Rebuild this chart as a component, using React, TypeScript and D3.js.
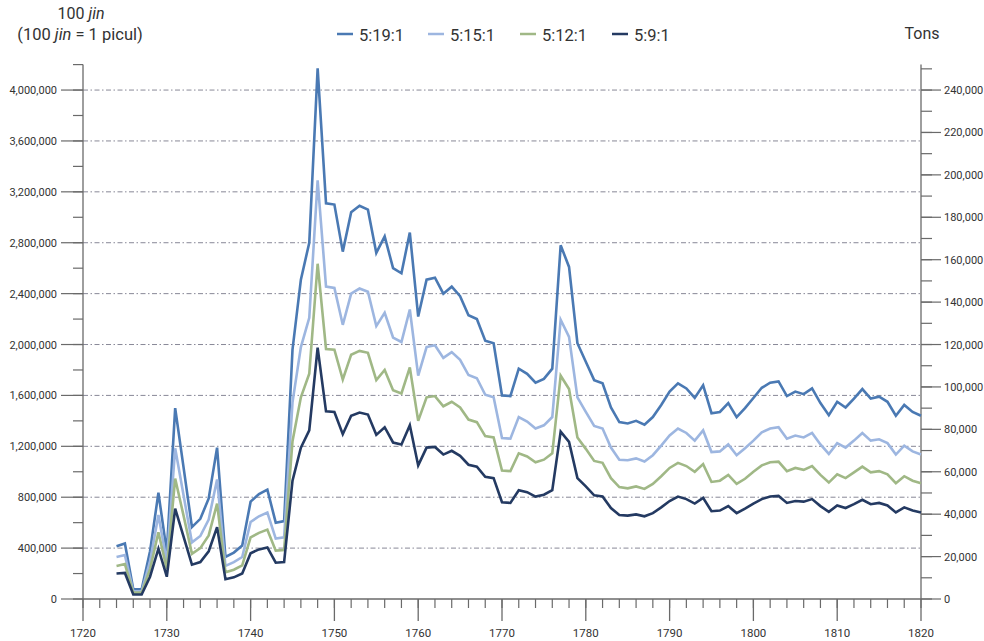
import React, { useEffect, useRef } from 'react';
import * as d3 from 'd3';

// annual values, thousands of jin, 1724-1820
const YEARS = d3.range(1724, 1821);

const RATIO_19 = [
  415, 437, 77, 77, 375, 835, 370, 1500, 1035, 565, 630, 790, 1190, 330, 365, 420, 765, 825, 860, 600, 612,
  1960, 2510, 2800, 4170, 3110, 3100, 2730, 3040, 3090, 3060, 2720, 2850, 2600, 2560, 2880, 2220, 2510, 2525,
  2400, 2455, 2380, 2230, 2200, 2030, 2010, 1600, 1595, 1810, 1770, 1700, 1730, 1810, 2780, 2610, 2010, 1865,
  1720, 1695, 1505, 1390, 1380, 1400, 1370, 1430, 1525, 1630, 1695, 1655, 1580, 1680, 1460, 1470, 1540, 1430,
  1500, 1580, 1660, 1700, 1710, 1595, 1630, 1610, 1655, 1540, 1445, 1550, 1505, 1575, 1650, 1575, 1590, 1550,
  1440, 1525, 1470, 1440,
];

const RATIO_15 = [
  330, 345, 60, 60, 295, 660, 290, 1185, 815, 445, 495, 625, 940, 260, 290, 330, 605, 650, 680, 475, 485,
  1545, 1980, 2210, 3290, 2455, 2445, 2155, 2400, 2440, 2415, 2145, 2250, 2055, 2020, 2275, 1755, 1980, 1995,
  1895, 1940, 1880, 1760, 1735, 1605, 1585, 1265, 1260, 1430, 1395, 1340, 1365, 1430, 2195, 2060, 1585, 1470,
  1360, 1340, 1190, 1095, 1090, 1105, 1080, 1130, 1205, 1285, 1340, 1305, 1245, 1325, 1155, 1160, 1215, 1130,
  1185, 1245, 1310, 1340, 1350, 1260, 1285, 1270, 1305, 1215, 1140, 1225, 1190, 1245, 1305, 1245, 1255, 1225,
  1135, 1205, 1160, 1135,
];

const RATIO_12 = [
  260, 275, 50, 50, 235, 525, 235, 947, 655, 355, 400, 500, 750, 210, 230, 265, 485, 520, 545, 380, 385,
  1240, 1585, 1770, 2635, 1965, 1960, 1725, 1920, 1950, 1935, 1720, 1800, 1640, 1615, 1820, 1400, 1585, 1595,
  1515, 1550, 1505, 1410, 1390, 1280, 1270, 1010, 1005, 1145, 1120, 1075, 1095, 1145, 1755, 1650, 1270, 1180,
  1085, 1070, 950, 880, 870, 885, 865, 905, 965, 1030, 1070, 1045, 1000, 1060, 920, 930, 975, 905,
  945, 1000, 1050, 1075, 1080, 1005, 1030, 1015, 1045, 975, 915, 980, 950, 995, 1040, 995, 1005, 980,
  910, 965, 930, 910,
];

const RATIO_9 = [
  200, 205, 35, 35, 175, 395, 175, 710, 490, 270, 290, 375, 565, 155, 170, 200, 360, 390, 405, 285, 290,
  930, 1190, 1325, 1975, 1475, 1470, 1295, 1440, 1465, 1450, 1290, 1350, 1230, 1215, 1365, 1050, 1190, 1195,
  1135, 1165, 1125, 1055, 1040, 960, 950, 760, 755, 855, 840, 805, 820, 855, 1315, 1235, 950, 885,
  815, 805, 715, 660, 655, 665, 650, 675, 720, 770, 805, 785, 750, 795, 690, 695, 730, 675,
  710, 750, 785, 805, 810, 755, 770, 765, 785, 730, 685, 735, 715, 745, 780, 745, 755, 735,
  680, 720, 695, 680,
];

const SERIES_NAMES = ['5:19:1', '5:15:1', '5:12:1', '5:9:1'];
const SERIES_VALUES = [RATIO_19, RATIO_15, RATIO_12, RATIO_9];
const SERIES_COLORS = ['#4a79b3', '#9db6e0', '#a0b886', '#243a62'];

const JIN_TICKS = d3.range(0, 4200001, 400000);
const JIN_MINOR = d3.range(0, 4200001, 200000);
const TON_TICKS = d3.range(0, 240001, 20000);
const TON_MINOR = d3.range(0, 250001, 10000);
const YEAR_TICKS = d3.range(1720, 1821, 10);
const YEAR_MINOR = d3.range(1720, 1821, 2);

const TONS_PER_JIN100 = 0.06;

export default function App() {
  const svgRef = useRef<SVGSVGElement>(null);

  useEffect(() => {
    if (!svgRef.current) return;
    const width = 984;
    const height = 641;
    const svg = d3.select(svgRef.current).attr('width', width).attr('height', height);
    svg.selectAll('*').remove();

    const font = 'Roboto, "DejaVu Sans", sans-serif';
    const axisColor = '#6a6a6a';
    const textColor = '#333';

    const x = d3.scaleLinear().domain([1720, 1820]).range([83, 921]);
    const y = d3.scaleLinear().domain([0, 4200000]).range([599, 64.6]);
    const yTons = d3.scaleLinear().domain([0, 4200000 * TONS_PER_JIN100]).range([599, 64.6]);
    const fmt = d3.format(',');

    // gridlines
    svg.append('g')
      .selectAll('line')
      .data(JIN_TICKS.filter(d => d > 0))
      .enter()
      .append('line')
      .attr('x1', x(1720))
      .attr('x2', x(1820))
      .attr('y1', d => y(d))
      .attr('y2', d => y(d))
      .attr('stroke', '#6a6a7c')
      .attr('stroke-width', 0.8)
      .attr('stroke-dasharray', '5,2.5,1.5,2.5');

    // left axis
    const left = svg.append('g');
    left.append('line')
      .attr('x1', x(1720)).attr('x2', x(1720))
      .attr('y1', y(4200000)).attr('y2', 599)
      .attr('stroke', axisColor).attr('stroke-width', 1.3);
    left.selectAll('.minor')
      .data(JIN_MINOR)
      .enter()
      .append('line')
      .attr('x1', x(1720) - 10).attr('x2', x(1720))
      .attr('y1', d => y(d)).attr('y2', d => y(d))
      .attr('stroke', axisColor).attr('stroke-width', 1.2);
    left.selectAll('.major')
      .data(JIN_TICKS)
      .enter()
      .append('line')
      .attr('x1', x(1720) - 22).attr('x2', x(1720))
      .attr('y1', d => y(d)).attr('y2', d => y(d))
      .attr('stroke', axisColor).attr('stroke-width', 1.2);
    left.selectAll('text')
      .data(JIN_TICKS)
      .enter()
      .append('text')
      .attr('x', x(1720) - 26)
      .attr('y', d => y(d) + 4)
      .attr('text-anchor', 'end')
      .attr('font-family', font)
      .attr('font-size', 11)
      .attr('fill', textColor)
      .text(d => fmt(d));

    // right axis
    const right = svg.append('g');
    right.append('line')
      .attr('x1', x(1820)).attr('x2', x(1820))
      .attr('y1', 64.6).attr('y2', 599)
      .attr('stroke', axisColor).attr('stroke-width', 1.3);
    right.selectAll('.minor')
      .data(TON_MINOR)
      .enter()
      .append('line')
      .attr('x1', x(1820)).attr('x2', x(1820) + 11)
      .attr('y1', d => yTons(d)).attr('y2', d => yTons(d))
      .attr('stroke', axisColor).attr('stroke-width', 1.2);
    right.selectAll('.major')
      .data(TON_TICKS)
      .enter()
      .append('line')
      .attr('x1', x(1820)).attr('x2', x(1820) + 20)
      .attr('y1', d => yTons(d)).attr('y2', d => yTons(d))
      .attr('stroke', axisColor).attr('stroke-width', 1.2);
    right.selectAll('text')
      .data(TON_TICKS)
      .enter()
      .append('text')
      .attr('x', x(1820) + 23)
      .attr('y', d => yTons(d) + 4)
      .attr('font-family', font)
      .attr('font-size', 11)
      .attr('fill', textColor)
      .text(d => fmt(d));

    // bottom axis
    const bottom = svg.append('g');
    bottom.append('line')
      .attr('x1', x(1720)).attr('x2', x(1820))
      .attr('y1', 599).attr('y2', 599)
      .attr('stroke', axisColor).attr('stroke-width', 1.3);
    bottom.selectAll('.minor')
      .data(YEAR_MINOR)
      .enter()
      .append('line')
      .attr('x1', d => x(d)).attr('x2', d => x(d))
      .attr('y1', 599).attr('y2', 608)
      .attr('stroke', axisColor).attr('stroke-width', 1.2);
    bottom.selectAll('.major')
      .data(YEAR_TICKS)
      .enter()
      .append('line')
      .attr('x1', d => x(d)).attr('x2', d => x(d))
      .attr('y1', 599).attr('y2', 621)
      .attr('stroke', axisColor).attr('stroke-width', 1.3);
    bottom.selectAll('text')
      .data(YEAR_TICKS)
      .enter()
      .append('text')
      .attr('x', d => x(d))
      .attr('y', 637)
      .attr('text-anchor', 'middle')
      .attr('font-family', font)
      .attr('font-size', 11.5)
      .attr('fill', textColor)
      .text(d => d);

    // series lines
    const line = d3.line<number>()
      .x((_, i) => x(YEARS[i]))
      .y(d => y(d * 1000));

    SERIES_VALUES.forEach((vals, i) => {
      svg.append('path')
        .datum(vals)
        .attr('fill', 'none')
        .attr('stroke', SERIES_COLORS[i])
        .attr('stroke-width', 2.6)
        .attr('d', line);
    });

    // headers
    const h1 = svg.append('text')
      .attr('x', 81).attr('y', 19)
      .attr('text-anchor', 'middle')
      .attr('font-family', font).attr('font-size', 16).attr('fill', textColor);
    h1.append('tspan').text('100 ');
    h1.append('tspan').attr('font-style', 'italic').text('jin');

    const h2 = svg.append('text')
      .attr('x', 80).attr('y', 40)
      .attr('text-anchor', 'middle')
      .attr('font-family', font).attr('font-size', 16.5).attr('fill', textColor);
    h2.append('tspan').text('(100 ');
    h2.append('tspan').attr('font-style', 'italic').text('jin');
    h2.append('tspan').text(' = 1 picul)');

    svg.append('text')
      .attr('x', 922).attr('y', 39)
      .attr('text-anchor', 'middle')
      .attr('font-family', font).attr('font-size', 16).attr('fill', textColor)
      .text('Tons');

    // legend
    const legendX = [337, 428, 520, 612];
    const legend = svg.append('g');
    SERIES_NAMES.forEach((name, i) => {
      legend.append('line')
        .attr('x1', legendX[i]).attr('x2', legendX[i] + 16)
        .attr('y1', 34).attr('y2', 34)
        .attr('stroke', SERIES_COLORS[i]).attr('stroke-width', 2.5);
      legend.append('text')
        .attr('x', legendX[i] + 22).attr('y', 41)
        .attr('font-family', font).attr('font-size', 16.5).attr('fill', textColor)
        .text(name);
    });
  }, []);

  return (
    <svg ref={svgRef} style={{ position: 'absolute', left: 0, top: 0, display: 'block', background: '#fff' }} />
  );
}
